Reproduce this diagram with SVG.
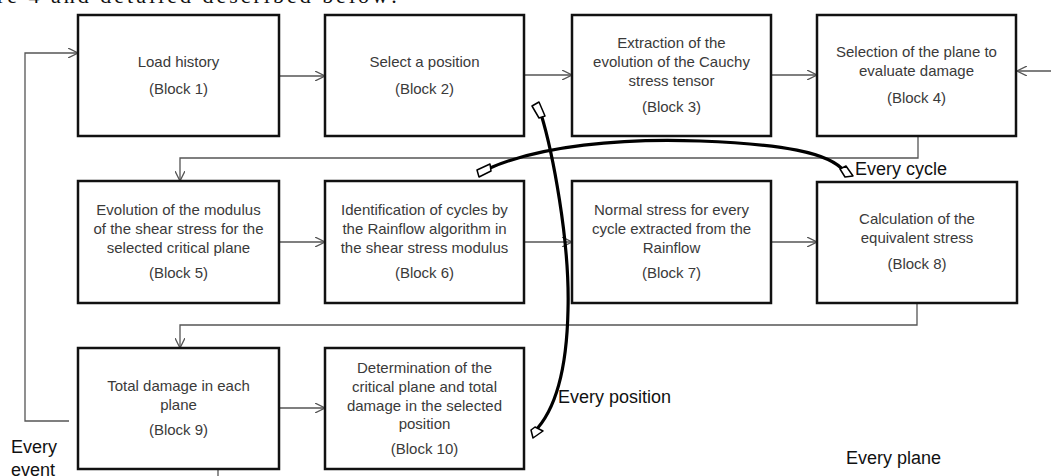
<svg xmlns="http://www.w3.org/2000/svg" width="1051" height="476" viewBox="0 0 1051 476">
<style>
.box{fill:#fff;stroke:#111;stroke-width:2.5}
.t{font-family:"Liberation Sans",Arial,sans-serif;font-size:15px;fill:#3a3a3a;text-anchor:middle}
.lbl{font-family:"Liberation Sans",Arial,sans-serif;font-size:18px;fill:#111}
.c{fill:none;stroke:#555;stroke-width:1.3}
.thick{fill:none;stroke:#000;stroke-width:3.2;stroke-linecap:round}
.tip{fill:#fff;stroke:#000;stroke-width:1.5;stroke-linejoin:round}
</style>
<defs>
<marker id="ah" viewBox="0 0 10 10" refX="10" refY="5" markerWidth="10" markerHeight="10" markerUnits="userSpaceOnUse" orient="auto">
<path d="M0,0 L10,5 L0,10" fill="none" stroke="#555" stroke-width="1.3"/>
</marker>
</defs>
<rect width="1051" height="476" fill="#fff"/>
<text x="-3" y="3" font-family="'Liberation Serif',serif" font-size="22" fill="#111" textLength="400" lengthAdjust="spacing">re 4 and detailed described below:</text>

<g id="connectors">
<path class="c" d="M279,76 H325" marker-end="url(#ah)"/>
<path class="c" d="M524,75 H572" marker-end="url(#ah)"/>
<path class="c" d="M771,75 H817" marker-end="url(#ah)"/>
<path class="c" d="M1051,71 H1017" marker-end="url(#ah)"/>
<path class="c" d="M918,136 V158 H180 V181" marker-end="url(#ah)"/>
<path class="c" d="M279,242 H325" marker-end="url(#ah)"/>
<path class="c" d="M524,242 H572" marker-end="url(#ah)"/>
<path class="c" d="M771,242 H817" marker-end="url(#ah)"/>
<path class="c" d="M917,303 V325 H180 V348" marker-end="url(#ah)"/>
<path class="c" d="M279,408 H325" marker-end="url(#ah)"/>
<path class="c" d="M69,421 H25 V53 H78" marker-end="url(#ah)"/>
<path class="c" d="M218,469 V476"/>
<path class="thick" d="M541,114 C552,150 570,240 568,310 C567,360 558,408 534,432"/>
<polygon class="tip" points="532,106 539,102 545,116 539,118"/>
<polygon class="tip" points="531,430 535,427 543,431 533,438"/>
<path class="thick" d="M490,168 C540,146 620,138 700,141 C780,144 830,152 845,172"/>
<polygon class="tip" points="477,170 490,164 491,171 479,177"/>
<polygon class="tip" points="840,169 846,166 853,176 845,177"/>
</g>

<g id="block1"><rect class="box" x="78" y="15" width="201" height="121"/>
<text class="t" x="178.5" y="67">Load history</text><text class="t" x="178.5" y="94">(Block 1)</text></g>
<g id="block2"><rect class="box" x="325" y="15" width="199" height="121"/>
<text class="t" x="424.5" y="67">Select a position</text><text class="t" x="424.5" y="94">(Block 2)</text></g>
<g id="block3"><rect class="box" x="572" y="15" width="199" height="121"/>
<text class="t" x="671.5" y="48">Extraction of the</text><text class="t" x="671.5" y="67">evolution of the Cauchy</text><text class="t" x="671.5" y="86">stress tensor</text><text class="t" x="671.5" y="112">(Block 3)</text></g>
<g id="block4"><rect class="box" x="817" y="15" width="199" height="121"/>
<text class="t" x="916.5" y="57">Selection of the plane to</text><text class="t" x="916.5" y="76">evaluate damage</text><text class="t" x="916.5" y="103">(Block 4)</text></g>

<g id="block5"><rect class="box" x="78" y="181" width="201" height="122"/>
<text class="t" x="178.5" y="215">Evolution of the modulus</text><text class="t" x="178.5" y="234">of the shear stress for the</text><text class="t" x="178.5" y="253">selected critical plane</text><text class="t" x="178.5" y="278">(Block 5)</text></g>
<g id="block6"><rect class="box" x="325" y="181" width="199" height="122"/>
<text class="t" x="424.5" y="215">Identification of cycles by</text><text class="t" x="424.5" y="234">the Rainflow algorithm in</text><text class="t" x="424.5" y="253">the shear stress modulus</text><text class="t" x="424.5" y="278">(Block 6)</text></g>
<g id="block7"><rect class="box" x="572" y="181" width="199" height="122"/>
<text class="t" x="671.5" y="215">Normal stress for every</text><text class="t" x="671.5" y="234">cycle extracted from the</text><text class="t" x="671.5" y="253">Rainflow</text><text class="t" x="671.5" y="278">(Block 7)</text></g>
<g id="block8"><rect class="box" x="817" y="182" width="200" height="121"/>
<text class="t" x="917" y="224">Calculation of the</text><text class="t" x="917" y="243">equivalent stress</text><text class="t" x="917" y="269">(Block 8)</text></g>

<g id="block9"><rect class="box" x="78" y="348" width="201" height="121"/>
<text class="t" x="178.5" y="391">Total damage in each</text><text class="t" x="178.5" y="410">plane</text><text class="t" x="178.5" y="435">(Block 9)</text></g>
<g id="block10"><rect class="box" x="325" y="348" width="199" height="121"/>
<text class="t" x="424.5" y="373">Determination of the</text><text class="t" x="424.5" y="392">critical plane and total</text><text class="t" x="424.5" y="411">damage in the selected</text><text class="t" x="424.5" y="429">position</text><text class="t" x="424.5" y="454">(Block 10)</text></g>

<g id="labels">
<text class="lbl" x="855" y="175">Every cycle</text>
<text class="lbl" x="558" y="403" font-size="19">Every position</text>
<text class="lbl" x="846" y="464" font-size="17.5">Every plane</text>
<text class="lbl" x="11" y="453">Every</text>
<text class="lbl" x="11" y="476">event</text>
</g>
</svg>
